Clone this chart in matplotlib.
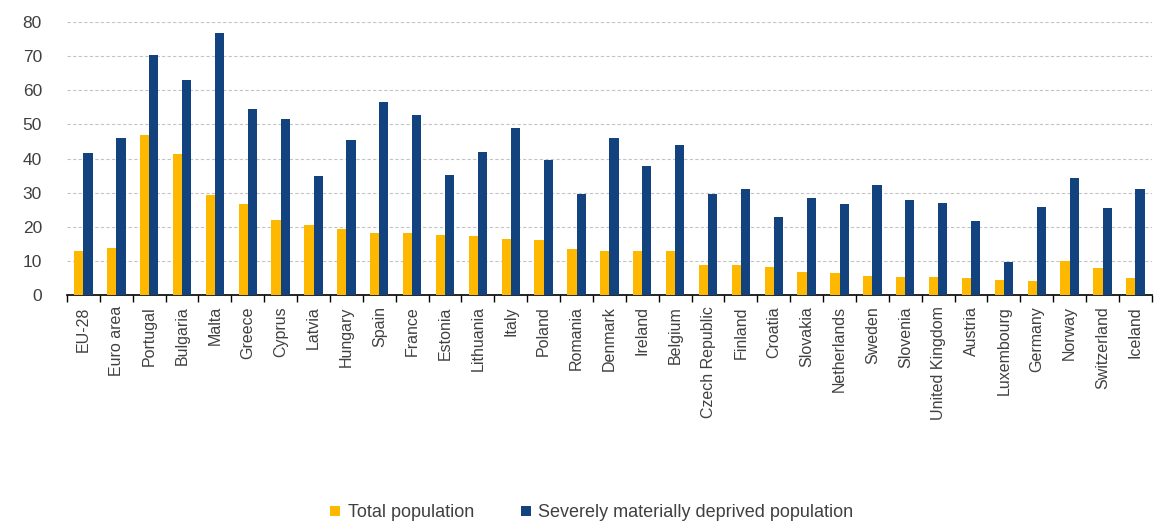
import numpy as np
import matplotlib.pyplot as plt

plt.rcParams['font.family'] = ['Liberation Sans', 'DejaVu Sans']

# data
countries = ['EU-28', 'Euro area', 'Portugal', 'Bulgaria', 'Malta', 'Greece', 'Cyprus',
             'Latvia', 'Hungary', 'Spain', 'France', 'Estonia', 'Lithuania', 'Italy',
             'Poland', 'Romania', 'Denmark', 'Ireland', 'Belgium', 'Czech Republic',
             'Finland', 'Croatia', 'Slovakia', 'Netherlands', 'Sweden', 'Slovenia',
             'United Kingdom', 'Austria', 'Luxembourg', 'Germany', 'Norway',
             'Switzerland', 'Iceland']
total_pop = [13.0, 13.9, 46.8, 41.2, 29.2, 26.7, 22.0, 20.6, 19.3, 18.1, 18.1, 17.7, 17.2,
             16.4, 16.0, 13.4, 13.0, 13.0, 13.0, 8.7, 8.7, 8.2, 6.9, 6.5, 5.7, 5.3, 5.3,
             4.9, 4.4, 4.0, 10.0, 7.8, 4.9]
deprived_pop = [41.6, 45.9, 70.3, 63.0, 76.7, 54.5, 51.5, 34.8, 45.5, 56.6, 52.7, 35.3,
                42.0, 48.9, 39.5, 29.7, 45.9, 37.8, 44.1, 29.7, 31.0, 22.8, 28.3, 26.7,
                32.2, 27.9, 27.1, 21.6, 9.6, 25.8, 34.4, 25.4, 31.0]

yellow = '#FFB800'
blue = '#12437F'
text_col = '#404040'

fig = plt.figure(figsize=(11.67, 5.25), dpi=100)
ax = fig.add_axes([0.0574, 0.438, 0.9296, 0.52])

x = np.arange(len(countries))
w = 0.28
ax.bar(x - w / 2, total_pop, w, color=yellow, label='Total population', zorder=3)
ax.bar(x + w / 2, deprived_pop, w, color=blue, label='Severely materially deprived population',
       zorder=3)

ax.set_xlim(-0.5, len(countries) - 0.5)
ax.set_ylim(0, 80)
ax.set_yticks(np.arange(0, 81, 10))
ax.yaxis.grid(True, linestyle=(0, (3, 2)), color='#c4c4c4', linewidth=0.8, zorder=0)
ax.tick_params(axis='y', length=0, labelsize=12.5, labelcolor=text_col, pad=18)

ax.set_xticks(x)
ax.set_xticklabels(countries, rotation=90, fontsize=11.5, color=text_col)
ax.set_xticks(np.arange(-0.5, len(countries), 1), minor=True)
ax.tick_params(axis='x', which='major', length=0, pad=8)
ax.tick_params(axis='x', which='minor', length=5, width=1, color='black')

for s in ['top', 'right', 'left']:
    ax.spines[s].set_visible(False)
ax.spines['bottom'].set_linewidth(1.2)

fig.legend(loc='center', bbox_to_anchor=(0.507, 0.023), ncol=2, frameon=False,
           fontsize=13, handlelength=0.55, handleheight=0.55, handletextpad=0.4,
           columnspacing=2.6, labelcolor=text_col)

fig.savefig('out.png', dpi=100)
